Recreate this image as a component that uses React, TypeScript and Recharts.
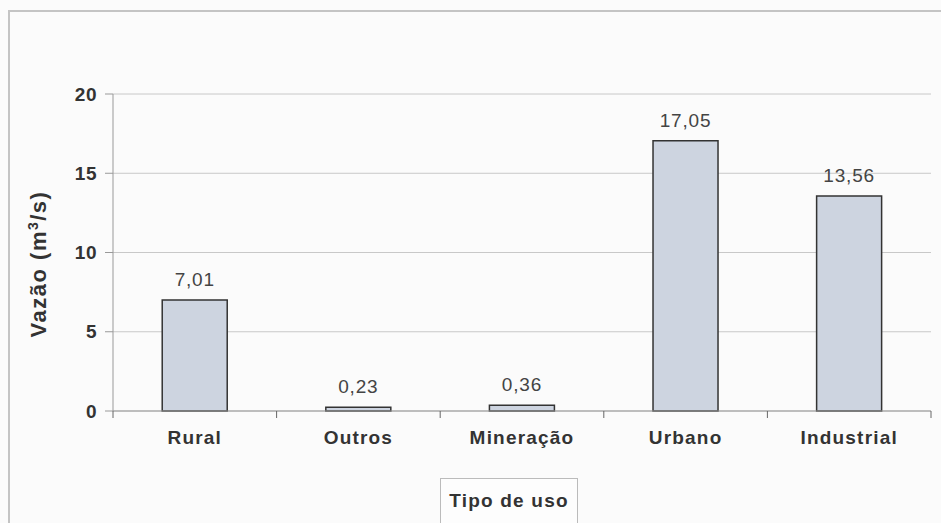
import React from 'react';
import { BarChart, Bar, XAxis, YAxis, CartesianGrid, LabelList, Label } from 'recharts';

const categories = ['Rural', 'Outros', 'Mineração', 'Urbano', 'Industrial'];
const vazao = [7.01, 0.23, 0.36, 17.05, 13.56];
const yTicks = [0, 5, 10, 15, 20];

const data = categories.map((name, i) => ({ name, vazao: vazao[i] }));

const W = 941;
const H = 523;
const margin = { top: 94, right: 10, bottom: 72, left: 60 };
const yAxisWidth = 53;
const plotW = W - margin.left - margin.right - yAxisWidth;
const band = plotW / categories.length;

const font = '"Liberation Sans", Arial, sans-serif';

const XTick = (props: any) => {
  const { x, y, payload, index } = props;
  const axisY = y - 8;
  return (
    <g>
      <line x1={x + band / 2} x2={x + band / 2} y1={axisY} y2={axisY + 7} stroke="#666" />
      {index === 0 && <line x1={x - band / 2} x2={x - band / 2} y1={axisY} y2={axisY + 7} stroke="#666" />}
      <text x={x} y={y + 25} textAnchor="middle" fontFamily={font} fontSize={19} fontWeight="bold" letterSpacing={1.2} fill="#333">
        {payload.value}
      </text>
    </g>
  );
};

const fmt = (v: any) => String(v).replace('.', ',');

export default function App() {
  return (
    <div style={{ position: 'absolute', left: 0, top: 0, width: W, height: H, background: '#fbfbfb', overflow: 'hidden' }}>
      <div style={{ position: 'absolute', left: 8, top: 10, width: 1000, height: 600, border: '2px solid #c4c4c4' }} />
      <div
        style={{
          position: 'absolute', left: 440, top: 478, width: 136, height: 60, border: '1px solid #bbb',
          background: '#fdfdfd',
        }}
      />
      <BarChart width={W} height={H} data={data} margin={margin} barCategoryGap="20%" style={{ position: 'absolute', left: 0, top: 0 }}>
        <CartesianGrid vertical={false} stroke="#c8c8c8" />
        <XAxis dataKey="name" axisLine={{ stroke: '#999' }} tickLine={false} tick={<XTick />} height={40} interval={0} />
        <XAxis xAxisId="top" orientation="top" dataKey="name" tick={false} tickLine={false} axisLine={{ stroke: '#b8aaa5' }} height={0} />
        <YAxis
          domain={[0, 20]}
          ticks={yTicks}
          width={yAxisWidth}
          axisLine={{ stroke: '#999' }}
          tickLine={{ stroke: '#999' }}
          tickSize={8}
          tick={{ fontFamily: font, fontSize: 19, fontWeight: 'bold', fill: '#333', letterSpacing: 0.5 }}
          tickMargin={8}
        >
          <Label
            content={() => (
              <text
                x={46}
                y={264}
                transform="rotate(-90 46 264)"
                textAnchor="middle"
                fontFamily={font}
                fontSize={22}
                fontWeight="bold"
                letterSpacing={1.5}
                fill="#333"
              >
                Vazão (m<tspan dy={-8} fontSize={14}>3</tspan><tspan dy={8}>/s)</tspan>
              </text>
            )}
          />
        </YAxis>
        <YAxis yAxisId="right" orientation="right" width={0} tick={false} tickLine={false} axisLine={{ stroke: '#b8aaa5' }} />
        <Bar dataKey="vazao" fill="#cdd4e0" stroke="#333" strokeWidth={1.5} isAnimationActive={false} maxBarSize={65}>
          <LabelList dataKey="vazao" position="top" offset={14} formatter={fmt} fontFamily={font} fontSize={19} letterSpacing={0.8} fill="#444" />
        </Bar>
        <text x={509} y={507} textAnchor="middle" fontFamily={font} fontSize={19} fontWeight="bold" letterSpacing={1.2} fill="#333">
          Tipo de uso
        </text>
      </BarChart>
    </div>
  );
}
